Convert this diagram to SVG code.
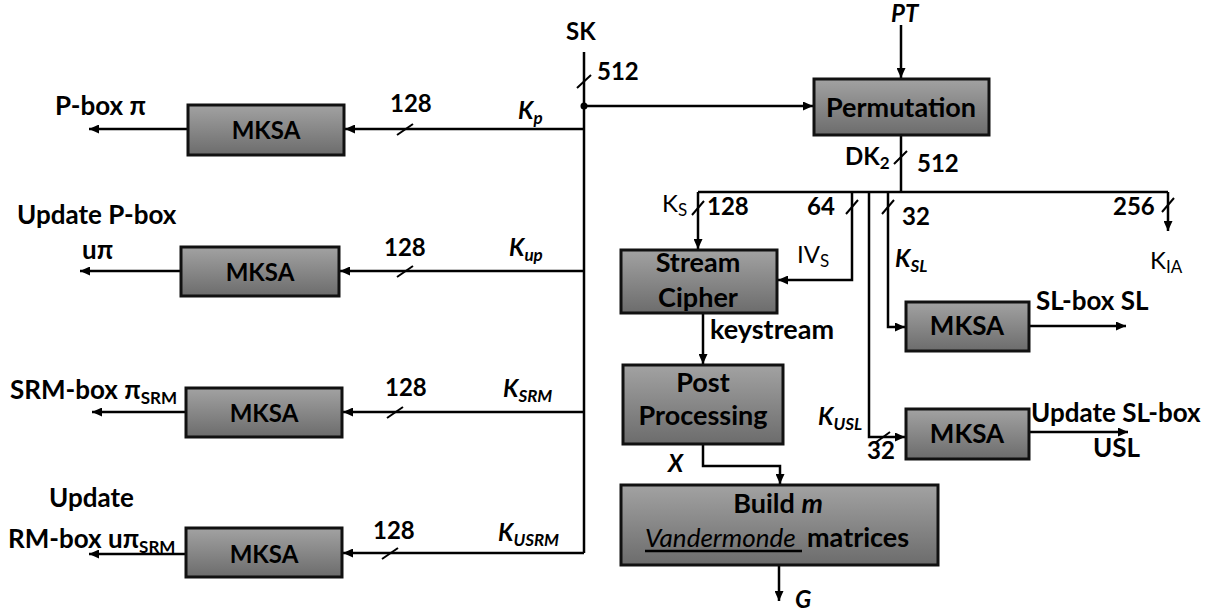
<svg xmlns="http://www.w3.org/2000/svg" width="1217" height="614" viewBox="0 0 1217 614">
<defs>
<linearGradient id="g" x1="0" y1="0" x2="0" y2="1">
<stop offset="0" stop-color="#a2a2a2"/>
<stop offset="1" stop-color="#6c6c6c"/>
</linearGradient>
<marker id="ah" markerUnits="userSpaceOnUse" markerWidth="11" markerHeight="9" refX="10" refY="4.5" orient="auto">
<path d="M0,0 L10,4.5 L0,9 z" fill="#000"/>
</marker>
</defs>
<style>
.box{fill:url(#g);stroke:#111;stroke-width:3}
.ln{fill:none;stroke:#000;stroke-width:2.5}
.ar{fill:none;stroke:#000;stroke-width:2.5;marker-end:url(#ah)}
.tk{fill:none;stroke:#000;stroke-width:2}
text{font-family:Lato,"Liberation Sans",sans-serif;font-weight:bold;font-size:26px;fill:#000}
.c{text-anchor:middle}
.i{font-style:italic}
.n{font-weight:normal}
.s{font-size:17px}
.num{font-size:24px}
.mk{font-size:24px}
.big{font-size:27px}
</style>
<rect width="1217" height="614" fill="#fff"/>

<g id="connectors">
<path class="ln" d="M584,52 V553"/>
<circle cx="584" cy="106" r="3.5" fill="#000"/>
<path class="ar" d="M584,106 H813"/>
<path class="ar" d="M584,129 H345"/>
<path class="ar" d="M584,271 H340"/>
<path class="ar" d="M584,412 H343"/>
<path class="ar" d="M584,553 H343"/>
<path class="ar" d="M188,129 H89"/>
<path class="ar" d="M181,271 H80"/>
<path class="ar" d="M186,412 H92"/>
<path class="ar" d="M186,554 H89"/>
<path class="ar" d="M901,25 V78"/>
<path class="ln" d="M901,135 V192"/>
<path class="ln" d="M698,192 H1168"/>
<path class="ar" d="M698,192 V249"/>
<path class="ar" d="M852,192 V280 H778"/>
<path class="ar" d="M869,192 V437 H905"/>
<path class="ar" d="M888,192 V327 H905"/>
<path class="ar" d="M1168,192 V231"/>
<path class="ar" d="M703,313 V364"/>
<path class="ar" d="M703,444 V466 H780 V484"/>
<path class="ar" d="M779,565 V601"/>
<path class="ar" d="M1029,326 H1126"/>
<path class="ar" d="M1029,432 H1128"/>
<path class="tk" d="M577,88 L591,75 M894,164 L907,151 M692,215 L704,201 M846,214 L858,200 M882,214 L894,200 M1162,212 L1174,198 M397,135 L413,124 M397,277 L413,266 M387,418 L403,407 M382,559 L398,548 M875,443 L890,432"/>
</g>

<g id="sk-labels">
<text class="num" x="566" y="40">SK</text>
<text class="num" x="597" y="80">512</text>
</g>

<g id="mksa-p">
<rect class="box" x="188" y="105" width="156" height="50"/>
<text class="c mk" x="266" y="139">MKSA</text>
<text x="55" y="115">P-box π</text>
<text class="num" x="390" y="112">128</text>
<text class="i num" x="518" y="119">K<tspan class="s" dy="5">p</tspan></text>
</g>

<g id="mksa-up">
<rect class="box" x="181" y="247" width="158" height="49"/>
<text class="c mk" x="260" y="281">MKSA</text>
<text x="17" y="224">Update P-box</text>
<text x="82" y="259">uπ</text>
<text class="num" x="384" y="256">128</text>
<text class="i num" x="509" y="256">K<tspan class="s" dy="5">up</tspan></text>
</g>

<g id="mksa-srm">
<rect class="box" x="186" y="388" width="156" height="49"/>
<text class="c mk" x="264" y="422">MKSA</text>
<text x="10" y="399">SRM-box π<tspan class="s" dy="5">SRM</tspan></text>
<text class="num" x="385" y="396">128</text>
<text class="i num" x="503" y="397">K<tspan class="s" dy="5">SRM</tspan></text>
</g>

<g id="mksa-usrm">
<rect class="box" x="186" y="528" width="156" height="49"/>
<text class="c mk" x="264" y="563">MKSA</text>
<text x="49" y="507">Update</text>
<text x="8" y="548">RM-box uπ<tspan class="s" dy="5">SRM</tspan></text>
<text class="num" x="373" y="539">128</text>
<text class="i num" x="498" y="541">K<tspan class="s" dy="5">USRM</tspan></text>
</g>

<g id="permutation">
<rect class="box" x="814" y="79" width="175" height="56"/>
<text class="c big" x="901" y="117">Permutation</text>
<text class="i num" x="891" y="22">PT</text>
<text class="num" x="845" y="165">DK<tspan class="s" dy="4">2</tspan></text>
<text class="num" x="917" y="172">512</text>
</g>

<g id="bus-labels">
<text class="n num" x="662" y="212">K<tspan class="s" dy="4">S</tspan></text>
<text class="num" x="707" y="215">128</text>
<text class="num" x="807" y="215">64</text>
<text class="n num" x="797" y="263">IV<tspan class="s" dy="4">S</tspan></text>
<text class="num" x="902" y="225">32</text>
<text class="i num" x="895" y="267">K<tspan class="s" dy="5">SL</tspan></text>
<text class="num" x="1113" y="215">256</text>
<text class="n num" x="1150" y="269">K<tspan class="s" dy="4">IA</tspan></text>
<text class="i num" x="818" y="425">K<tspan class="s" dy="5">USL</tspan></text>
<text class="num" x="867" y="459">32</text>
</g>

<g id="stream-cipher">
<rect class="box" x="621" y="250" width="156" height="63"/>
<text class="c big" x="698" y="272">Stream</text>
<text class="c big" x="698" y="307">Cipher</text>
<text class="big" x="710" y="339">keystream</text>
</g>

<g id="post-processing">
<rect class="box" x="623" y="365" width="160" height="79"/>
<text class="c big" x="703" y="392">Post</text>
<text class="c big" x="703" y="425">Processing</text>
<text class="i num" x="668" y="472">X</text>
</g>

<g id="build">
<rect class="box" x="621" y="485" width="317" height="80"/>
<text class="c big" x="778" y="513">Build <tspan class="i">m</tspan></text>
<text class="i n" x="645" y="547">Vandermonde</text>
<text class="big" x="807" y="547">matrices</text>
<path class="ln" d="M645,551 H802" stroke-width="2"/>
<text class="i num" x="795" y="608">G</text>
</g>

<g id="mksa-sl">
<rect class="box" x="906" y="302" width="123" height="49"/>
<text class="c" x="967" y="335">MKSA</text>
<text x="1036" y="310">SL-box SL</text>
</g>

<g id="mksa-usl">
<rect class="box" x="906" y="409" width="123" height="50"/>
<text class="c" x="967" y="443">MKSA</text>
<text x="1031" y="422">Update SL-box</text>
<text x="1093" y="457">USL</text>
</g>
</svg>
